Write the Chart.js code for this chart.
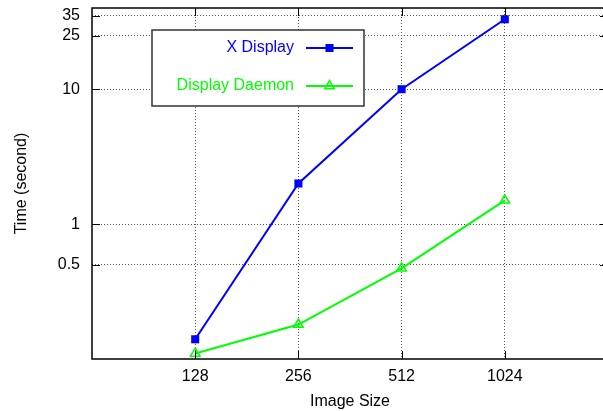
<!DOCTYPE html>
<html>
<head>
<meta charset="utf-8">
<script src="https://cdn.jsdelivr.net/npm/chart.js@4.4.0/dist/chart.umd.min.js"></script>
<style>
  html, body { margin: 0; padding: 0; background: #fff; overflow: hidden; }
  #wrap { position: relative; width: 615px; height: 411px; }
</style>
</head>
<body>
<div id="wrap"><canvas id="c" width="615" height="411"></canvas></div>
<script>
// Image sizes along the x axis (evenly spaced, powers of two)
const imageSizes = ['128', '256', '512', '1024'];
// Time in seconds for each approach
const xDisplay = [0.14, 2.0, 10, 33];
const displayDaemon = [0.11, 0.18, 0.47, 1.5];
// Labelled ticks on the logarithmic time axis
const timeTicks = [0.5, 1, 10, 25, 35];

const FONT = "'Liberation Sans', Arial, Helvetica, sans-serif";

function toPoints(values) {
  return values.map((v, i) => ({ x: i + 1, y: v }));
}

function noEdgePadding(scale) {
  scale.paddingTop = 0;
  scale.paddingBottom = 0;
  scale.paddingLeft = 0;
  scale.paddingRight = 0;
}

// Solid frame around the plot with short inward tick marks on all four sides
const framePlugin = {
  id: 'frame',
  afterDatasetsDraw(chart) {
    const { ctx, chartArea: a, scales } = chart;
    ctx.save();
    ctx.strokeStyle = '#000';
    ctx.lineWidth = 1;
    const len = 8;
    scales.y.ticks.forEach(t => {
      const y = Math.round(scales.y.getPixelForValue(t.value)) + 0.5;
      ctx.beginPath();
      ctx.moveTo(a.left, y); ctx.lineTo(a.left + len, y);
      ctx.moveTo(a.right, y); ctx.lineTo(a.right - len, y);
      ctx.stroke();
    });
    scales.x.ticks.forEach(t => {
      const x = Math.round(scales.x.getPixelForValue(t.value)) + 0.5;
      ctx.beginPath();
      ctx.moveTo(x, a.bottom); ctx.lineTo(x, a.bottom - len);
      ctx.moveTo(x, a.top); ctx.lineTo(x, a.top + len);
      ctx.stroke();
    });
    ctx.lineWidth = 1.5;
    ctx.strokeRect(a.left, a.top, a.right - a.left, a.bottom - a.top);
    ctx.restore();
  }
};

// Boxed key in the upper-left part of the plot
const keyPlugin = {
  id: 'keyBox',
  afterDraw(chart) {
    const { ctx } = chart;
    const box = { x: 152, y: 30, w: 212, h: 76 };
    ctx.save();
    ctx.fillStyle = '#fff';
    ctx.fillRect(box.x, box.y, box.w, box.h);
    ctx.strokeStyle = '#333';
    ctx.lineWidth = 1.5;
    ctx.strokeRect(box.x, box.y, box.w, box.h);
    ctx.font = '16px ' + FONT;
    ctx.textAlign = 'right';
    ctx.textBaseline = 'middle';
    chart.data.datasets.forEach((ds, i) => {
      const y = box.y + 18 + i * 38;
      ctx.fillStyle = ds.borderColor;
      ctx.fillText(ds.label, 294, y);
      ctx.strokeStyle = ds.borderColor;
      ctx.lineWidth = ds.borderWidth;
      ctx.beginPath();
      ctx.moveTo(306, y); ctx.lineTo(353, y);
      ctx.stroke();
      ctx.fillStyle = ds.pointBackgroundColor;
      ctx.lineWidth = ds.pointBorderWidth;
      Chart.helpers.drawPoint(ctx, {
        pointStyle: ds.pointStyle, radius: ds.pointRadius, rotation: 0,
        borderWidth: ds.pointBorderWidth
      }, 329.5, y);
    });
    ctx.restore();
  }
};

new Chart(document.getElementById('c'), {
  type: 'line',
  data: {
    datasets: [
      {
        label: 'X Display',
        data: toPoints(xDisplay),
        borderColor: '#0000ff',
        backgroundColor: '#0000ff',
        pointBackgroundColor: '#0000ff',
        pointBorderColor: '#0000ff',
        borderWidth: 2,
        pointStyle: 'rect',
        pointRadius: 5.7,
        pointBorderWidth: 0,
        tension: 0,
        clip: false
      },
      {
        label: 'Display Daemon',
        data: toPoints(displayDaemon),
        borderColor: '#00ff00',
        backgroundColor: '#00ff00',
        pointBackgroundColor: 'rgba(0,0,0,0)',
        pointBorderColor: '#00ff00',
        borderWidth: 2,
        pointStyle: 'triangle',
        pointRadius: 5.5,
        pointBorderWidth: 1.5,
        tension: 0,
        clip: false
      }
    ]
  },
  options: {
    responsive: false,
    animation: false,
    events: [],
    layout: { padding: { left: 0, top: 8, right: 3, bottom: 0 } },
    plugins: {
      legend: { display: false },
      tooltip: { enabled: false }
    },
    scales: {
      x: {
        type: 'linear',
        min: 0,
        max: imageSizes.length + 1,
        afterBuildTicks(scale) {
          scale.ticks = imageSizes.map((_, i) => ({ value: i + 1 }));
        },
        afterFit(scale) { scale.height = 52; noEdgePadding(scale); },
        grid: { color: '#555', lineWidth: 1, drawTicks: false },
        border: { display: false, dash: [1, 2] },
        ticks: {
          padding: 8,
          color: '#000',
          font: { family: FONT, size: 16 },
          maxRotation: 0,
          autoSkip: false,
          callback: (v) => imageSizes[v - 1] ?? ''
        },
        title: {
          display: true,
          text: 'Image Size',
          color: '#000',
          font: { family: FONT, size: 16 },
          padding: { top: 0, bottom: 0 }
        }
      },
      y: {
        type: 'logarithmic',
        min: 0.1,
        max: 40,
        afterBuildTicks(scale) {
          scale.ticks = timeTicks.map(v => ({ value: v }));
        },
        afterFit(scale) { scale.width = 92; noEdgePadding(scale); },
        grid: { color: '#555', lineWidth: 1, drawTicks: false },
        border: { display: false, dash: [1, 2] },
        ticks: {
          padding: 12,
          color: '#000',
          font: { family: FONT, size: 16 },
          autoSkip: false,
          callback: (v) => String(v)
        },
        title: {
          display: true,
          text: 'Time (second)',
          color: '#000',
          font: { family: FONT, size: 16 },
          padding: { top: 12, bottom: 0 }
        }
      }
    }
  },
  plugins: [framePlugin, keyPlugin]
});
</script>
</body>
</html>
